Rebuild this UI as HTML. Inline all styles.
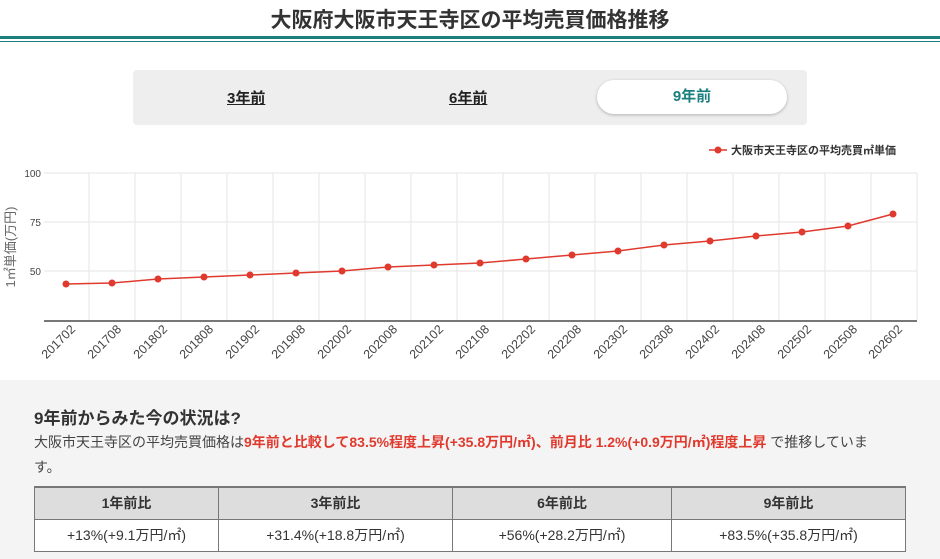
<!DOCTYPE html>
<html><head><meta charset="utf-8"><style>
*{margin:0;padding:0;box-sizing:border-box}
body{width:940px;height:559px;overflow:hidden;background:#fff;font-family:"Liberation Sans","Noto Sans CJK JP",sans-serif;color:#333;position:relative}
.title{position:absolute;top:4px;left:0;width:940px;text-align:center;font-size:21px;font-weight:bold;color:#333}
.l1{position:absolute;top:36px;left:0;width:940px;height:3px;background:#1b7f7f}
.l2{position:absolute;top:41px;left:0;width:940px;height:1px;background:#1b7f7f}
.tabs{position:absolute;left:133px;top:70px;width:674px;height:55px;background:#eee;border-radius:4px}
.tab{position:absolute;top:17px;font-size:15px;font-weight:bold;text-decoration:underline;color:#222}
.act{position:absolute;left:464px;top:10px;width:190px;height:34px;background:#fff;border-radius:17px;box-shadow:0 1px 3px rgba(0,0,0,.25);text-align:center;line-height:34px;font-size:15px;font-weight:bold;color:#1b7f7f}
.bot{position:absolute;left:0;top:380px;width:940px;height:179px;background:#f4f4f4}
h3{position:absolute;left:34px;top:24px;font-size:17px;font-weight:bold;color:#333}
.p{position:absolute;left:34px;top:50px;width:880px;font-size:14px;line-height:25px;color:#444}
.r{color:#e03a2e;font-weight:bold}
table{position:absolute;left:34px;top:106px;width:872px;border-collapse:collapse;font-size:14px}
td,th{border:1px solid #777;text-align:center;height:32px}
th{background:#ddd;font-weight:bold;border-top:2px solid #777}
td{background:#fff}
</style></head><body>
<div class="title">大阪府大阪市天王寺区の平均売買価格推移</div>
<div class="l1"></div><div class="l2"></div>
<div class="tabs">
<div class="tab" style="left:94px">3年前</div>
<div class="tab" style="left:316px">6年前</div>
<div class="act">9年前</div>
</div>
<svg style="position:absolute;left:0;top:135px" width="940" height="245" viewBox="0 135 940 245" font-family="Liberation Sans, Noto Sans CJK JP, sans-serif">
<g stroke="#e6e6e6" stroke-width="1">
<line x1="44" y1="173" x2="917" y2="173"/><line x1="44" y1="222" x2="917" y2="222"/><line x1="44" y1="271" x2="917" y2="271"/>
<line x1="89" y1="173" x2="89" y2="320"/><line x1="135" y1="173" x2="135" y2="320"/><line x1="181" y1="173" x2="181" y2="320"/><line x1="227" y1="173" x2="227" y2="320"/><line x1="273" y1="173" x2="273" y2="320"/><line x1="319" y1="173" x2="319" y2="320"/><line x1="365" y1="173" x2="365" y2="320"/><line x1="411" y1="173" x2="411" y2="320"/><line x1="457" y1="173" x2="457" y2="320"/><line x1="503" y1="173" x2="503" y2="320"/><line x1="549" y1="173" x2="549" y2="320"/><line x1="595" y1="173" x2="595" y2="320"/><line x1="641" y1="173" x2="641" y2="320"/><line x1="687" y1="173" x2="687" y2="320"/><line x1="733" y1="173" x2="733" y2="320"/><line x1="779" y1="173" x2="779" y2="320"/><line x1="825" y1="173" x2="825" y2="320"/><line x1="871" y1="173" x2="871" y2="320"/><line x1="917" y1="173" x2="917" y2="320"/>
</g>
<line x1="44" y1="321" x2="917" y2="321" stroke="#777" stroke-width="2"/>
<g font-size="10" fill="#444" text-anchor="end"><text x="41" y="177">100</text><text x="41" y="226">75</text><text x="41" y="275">50</text></g>
<text transform="translate(15,247) rotate(-90)" font-size="13" fill="#666" text-anchor="middle">1㎡単価(万円)</text>
<polyline fill="none" stroke="#e03a2e" stroke-width="1.5" points="66,284 112,283 158,279 204,277 250,275 296,273 342,271 388,267 434,265 480,263 526,259 572,255 618,251 664,245 710,241 756,236 802,232 848,226 893,214"/>
<g fill="#e03a2e">
<circle cx="66" cy="284" r="3.5"/><circle cx="112" cy="283" r="3.5"/><circle cx="158" cy="279" r="3.5"/><circle cx="204" cy="277" r="3.5"/><circle cx="250" cy="275" r="3.5"/><circle cx="296" cy="273" r="3.5"/><circle cx="342" cy="271" r="3.5"/><circle cx="388" cy="267" r="3.5"/><circle cx="434" cy="265" r="3.5"/><circle cx="480" cy="263" r="3.5"/><circle cx="526" cy="259" r="3.5"/><circle cx="572" cy="255" r="3.5"/><circle cx="618" cy="251" r="3.5"/><circle cx="664" cy="245" r="3.5"/><circle cx="710" cy="241" r="3.5"/><circle cx="756" cy="236" r="3.5"/><circle cx="802" cy="232" r="3.5"/><circle cx="848" cy="226" r="3.5"/><circle cx="893" cy="214" r="3.5"/>
</g>
<g font-size="12.5" fill="#444" text-anchor="end">
<text transform="translate(76,330) rotate(-45)">201702</text><text transform="translate(122,330) rotate(-45)">201708</text><text transform="translate(168,330) rotate(-45)">201802</text><text transform="translate(214,330) rotate(-45)">201808</text><text transform="translate(260,330) rotate(-45)">201902</text><text transform="translate(306,330) rotate(-45)">201908</text><text transform="translate(352,330) rotate(-45)">202002</text><text transform="translate(398,330) rotate(-45)">202008</text><text transform="translate(444,330) rotate(-45)">202102</text><text transform="translate(490,330) rotate(-45)">202108</text><text transform="translate(536,330) rotate(-45)">202202</text><text transform="translate(582,330) rotate(-45)">202208</text><text transform="translate(628,330) rotate(-45)">202302</text><text transform="translate(674,330) rotate(-45)">202308</text><text transform="translate(720,330) rotate(-45)">202402</text><text transform="translate(766,330) rotate(-45)">202408</text><text transform="translate(812,330) rotate(-45)">202502</text><text transform="translate(858,330) rotate(-45)">202508</text><text transform="translate(903,330) rotate(-45)">202602</text>
</g>
<line x1="709" y1="150" x2="727" y2="150" stroke="#e03a2e" stroke-width="1.5"/><circle cx="718" cy="150" r="3.5" fill="#e03a2e"/>
<text x="731" y="154" font-size="11" font-weight="bold" fill="#333">大阪市天王寺区の平均売買㎡単価</text>
</svg>
<div class="bot">
<h3>9年前からみた今の状況は?</h3>
<div class="p">大阪市天王寺区の平均売買価格は<span class="r">9年前と比較して83.5%程度上昇(+35.8万円/㎡)、前月比 1.2%(+0.9万円/㎡)程度上昇</span> で推移していま<br>す。</div>
<table><tr><th style="width:184px">1年前比</th><th style="width:234px">3年前比</th><th style="width:219px">6年前比</th><th>9年前比</th></tr>
<tr><td>+13%(+9.1万円/㎡)</td><td>+31.4%(+18.8万円/㎡)</td><td>+56%(+28.2万円/㎡)</td><td>+83.5%(+35.8万円/㎡)</td></tr></table>
</div>
</body></html>
